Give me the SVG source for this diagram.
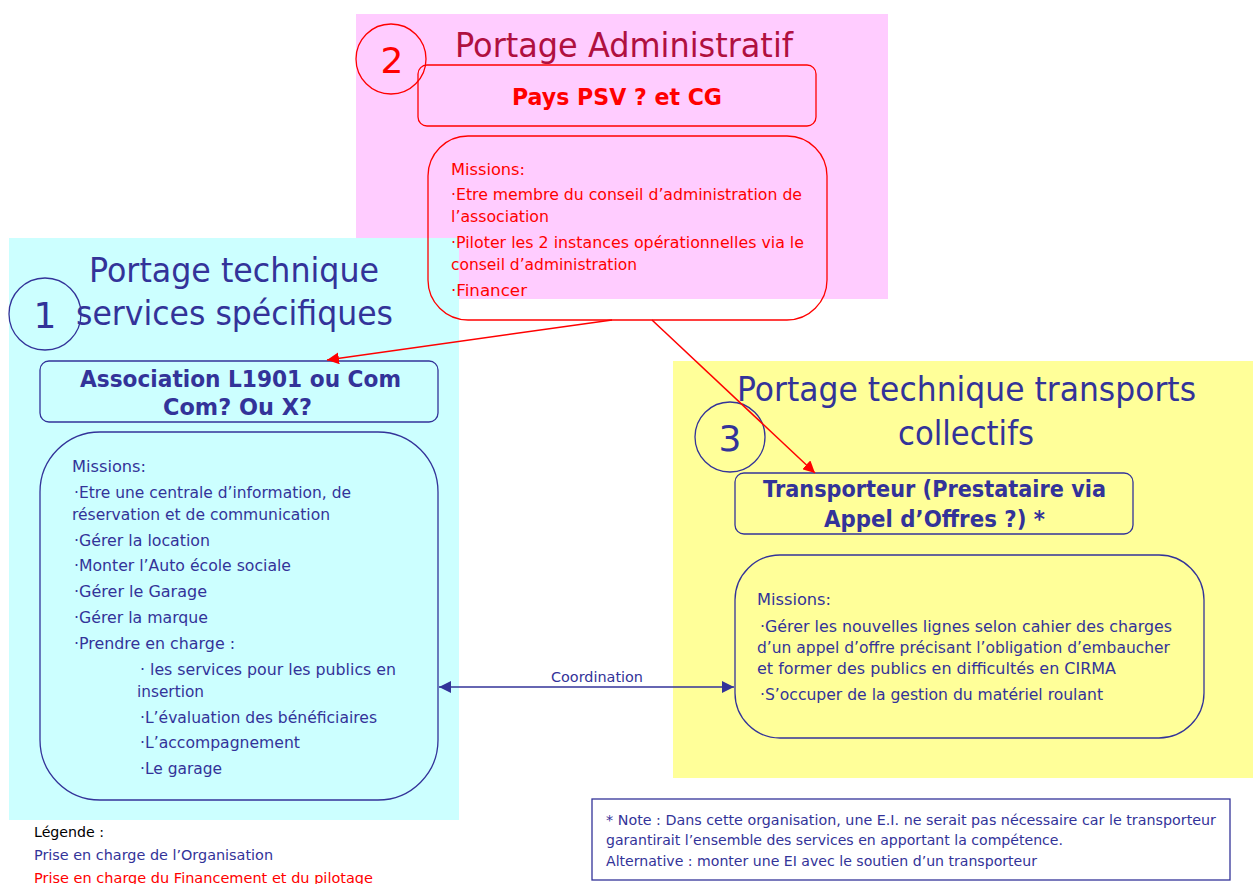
<svg xmlns="http://www.w3.org/2000/svg" width="1253" height="884" viewBox="0 0 1253 884">
<defs>
<style>
text{font-family:"DejaVu Sans","Liberation Sans",sans-serif}
.t{font-size:34px}
.h{font-size:23px;font-weight:bold}
.m{font-size:16px}
.s{font-size:14px}
.blue{fill:#333399}
.red{fill:#FF0000}
.bstroke{fill:none;stroke:#333399;stroke-width:1.3}
.rstroke{fill:none;stroke:#FF0000;stroke-width:1.3}
</style>
<marker id="ar" viewBox="0 0 10 10" refX="10" refY="5" markerWidth="12" markerHeight="12" markerUnits="userSpaceOnUse" orient="auto"><path d="M0,0 L10,5 L0,10 z" fill="#FF0000"/></marker>
<marker id="ab" viewBox="0 0 10 10" refX="10" refY="5" markerWidth="12" markerHeight="12" markerUnits="userSpaceOnUse" orient="auto-start-reverse"><path d="M0,0 L10,5 L0,10 z" fill="#333399"/></marker>
</defs>
<rect width="1253" height="884" fill="#FFFFFF"/>

<g id="bg-admin"><rect x="356" y="14" width="532" height="285" fill="#FFCCFF"/></g>
<g id="bg-tech"><rect x="9" y="238" width="450" height="582" fill="#CCFFFF"/></g>
<g id="bg-transport"><rect x="673" y="361" width="580" height="417" fill="#FFFF99"/></g>

<g id="admin">
<text x="455" y="57" class="t" fill="#B01040" textLength="338" lengthAdjust="spacingAndGlyphs">Portage Administratif</text>
<circle cx="391" cy="59" r="35" class="rstroke"/>
<text x="392" y="73" font-size="36" class="red" text-anchor="middle">2</text>
<rect x="418" y="65" width="398" height="61" rx="9" class="rstroke"/>
<text x="512" y="105" class="h red" textLength="210" lengthAdjust="spacingAndGlyphs">Pays PSV ? et CG</text>
<rect x="428" y="136" width="399" height="184" rx="40" class="rstroke"/>
<g class="m red">
<text x="451" y="175" textLength="74" lengthAdjust="spacingAndGlyphs">Missions:</text>
<text x="451" y="200" textLength="351" lengthAdjust="spacingAndGlyphs">·Etre membre du conseil d’administration de</text>
<text x="451" y="222" textLength="98" lengthAdjust="spacingAndGlyphs">l’association</text>
<text x="451" y="248" textLength="353" lengthAdjust="spacingAndGlyphs">·Piloter les 2 instances opérationnelles via le</text>
<text x="451" y="270" textLength="186" lengthAdjust="spacingAndGlyphs">conseil d’administration</text>
<text x="451" y="296" textLength="76" lengthAdjust="spacingAndGlyphs">·Financer</text>
</g>
</g>

<g id="tech">
<text x="89" y="282" class="t blue" textLength="290" lengthAdjust="spacingAndGlyphs">Portage technique</text>
<text x="76" y="325" class="t blue" textLength="317" lengthAdjust="spacingAndGlyphs">services spécifiques</text>
<circle cx="45" cy="314" r="36" class="bstroke"/>
<text x="45" y="328" font-size="36" class="blue" text-anchor="middle">1</text>
<rect x="40" y="361" width="398" height="61" rx="9" class="bstroke"/>
<text x="80" y="387" class="h blue" textLength="321" lengthAdjust="spacingAndGlyphs">Association L1901 ou Com</text>
<text x="163" y="415" class="h blue" textLength="149" lengthAdjust="spacingAndGlyphs">Com? Ou X?</text>
<rect x="40" y="432" width="398" height="368" rx="60" class="bstroke"/>
<g class="m blue">
<text x="72" y="472" textLength="74" lengthAdjust="spacingAndGlyphs">Missions:</text>
<text x="74" y="498" textLength="277" lengthAdjust="spacingAndGlyphs">·Etre une centrale d’information, de</text>
<text x="72" y="520" textLength="258" lengthAdjust="spacingAndGlyphs">réservation et de communication</text>
<text x="74" y="546" textLength="136" lengthAdjust="spacingAndGlyphs">·Gérer la location</text>
<text x="74" y="571" textLength="217" lengthAdjust="spacingAndGlyphs">·Monter l’Auto école sociale</text>
<text x="74" y="597" textLength="133" lengthAdjust="spacingAndGlyphs">·Gérer le Garage</text>
<text x="74" y="623" textLength="134" lengthAdjust="spacingAndGlyphs">·Gérer la marque</text>
<text x="74" y="649" textLength="161" lengthAdjust="spacingAndGlyphs">·Prendre en charge :</text>
<text x="140" y="675" textLength="256" lengthAdjust="spacingAndGlyphs">· les services pour les publics en</text>
<text x="137" y="697" textLength="67" lengthAdjust="spacingAndGlyphs">insertion</text>
<text x="140" y="723" textLength="237" lengthAdjust="spacingAndGlyphs">·L’évaluation des bénéficiaires</text>
<text x="140" y="748" textLength="160" lengthAdjust="spacingAndGlyphs">·L’accompagnement</text>
<text x="140" y="774" textLength="82" lengthAdjust="spacingAndGlyphs">·Le garage</text>
</g>
</g>

<g id="transport">
<text x="737" y="401" class="t blue" textLength="459" lengthAdjust="spacingAndGlyphs">Portage technique transports</text>
<text x="898" y="445" class="t blue" textLength="136" lengthAdjust="spacingAndGlyphs">collectifs</text>
<circle cx="730" cy="437" r="35" class="bstroke"/>
<text x="730" y="451" font-size="36" class="blue" text-anchor="middle">3</text>
<rect x="735" y="473" width="398" height="61" rx="9" class="bstroke"/>
<text x="763" y="497" class="h blue" textLength="343" lengthAdjust="spacingAndGlyphs">Transporteur (Prestataire via</text>
<text x="824" y="527" class="h blue" textLength="221" lengthAdjust="spacingAndGlyphs">Appel d’Offres ?) *</text>
<rect x="735" y="555" width="469" height="183" rx="45" class="bstroke"/>
<g class="m blue">
<text x="757" y="605" textLength="74" lengthAdjust="spacingAndGlyphs">Missions:</text>
<text x="760" y="632" textLength="412" lengthAdjust="spacingAndGlyphs">·Gérer les nouvelles lignes selon cahier des charges</text>
<text x="757" y="653" textLength="413" lengthAdjust="spacingAndGlyphs">d’un appel d’offre précisant l’obligation d’embaucher</text>
<text x="757" y="674" textLength="359" lengthAdjust="spacingAndGlyphs">et former des publics en difficultés en CIRMA</text>
<text x="760" y="700" textLength="343" lengthAdjust="spacingAndGlyphs">·S’occuper de la gestion du matériel roulant</text>
</g>
</g>

<g id="legend">
<text x="34" y="837" class="s" fill="#000000" textLength="70" lengthAdjust="spacingAndGlyphs">Légende :</text>
<text x="34" y="860" class="s blue" textLength="239" lengthAdjust="spacingAndGlyphs">Prise en charge de l’Organisation</text>
<text x="34" y="883" class="s red" textLength="339" lengthAdjust="spacingAndGlyphs">Prise en charge du  Financement et du pilotage</text>
</g>

<g id="note">
<rect x="592" y="799" width="638" height="81" class="bstroke"/>
<text x="606" y="825" class="s blue" textLength="610" lengthAdjust="spacingAndGlyphs">* Note : Dans cette organisation, une E.I. ne serait pas nécessaire car le transporteur</text>
<text x="606" y="845" class="s blue" textLength="457" lengthAdjust="spacingAndGlyphs">garantirait l’ensemble des services en apportant la compétence.</text>
<text x="606" y="866" class="s blue" textLength="431" lengthAdjust="spacingAndGlyphs">Alternative : monter une EI avec le soutien d’un transporteur</text>
</g>

<g id="connectors">
<line x1="612" y1="320" x2="327" y2="360" stroke="#FF0000" stroke-width="1.5" marker-end="url(#ar)"/>
<line x1="652" y1="320" x2="815" y2="473" stroke="#FF0000" stroke-width="1.5" marker-end="url(#ar)"/>
<line x1="439" y1="687" x2="734" y2="687" stroke="#333399" stroke-width="1.5" marker-start="url(#ab)" marker-end="url(#ab)"/>
<text x="597" y="682" class="s blue" text-anchor="middle" textLength="92" lengthAdjust="spacingAndGlyphs">Coordination</text>
</g>
</svg>
